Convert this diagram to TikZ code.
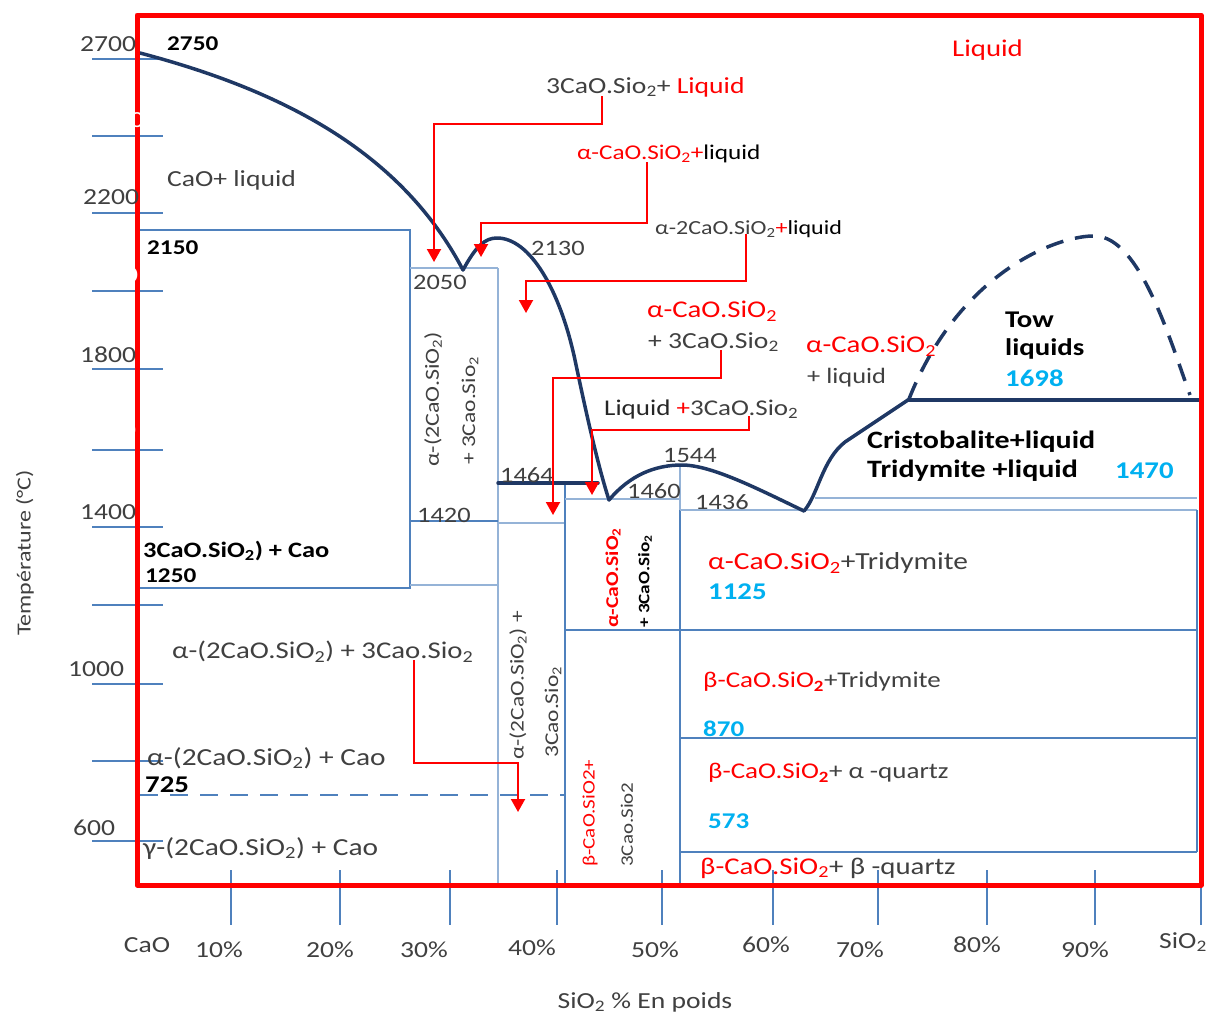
\documentclass[tikz,border=0pt]{standalone}
\usepackage{fontspec}
\setmainfont[FakeStretch=1.2]{Carlito}
\usetikzlibrary{arrows.meta}
\definecolor{navy}{HTML}{1F3864}
\definecolor{blueline}{HTML}{4F81BD}
\definecolor{lightblue}{HTML}{95B3D7}
\definecolor{cyanv}{HTML}{00B0F0}
\definecolor{txtgray}{HTML}{404040}
\newcommand{\myfs}[1]{\fontsize{#1}{#1}\selectfont}
\newcommand{\mysub}[1]{\textsubscript{#1}}
\begin{document}
\begin{tikzpicture}[x=1pt,y=-1pt,
  frame/.style={draw=red, line width=5pt, line join=round},
  bl/.style={draw=blueline, line width=2.2pt},
  lbl/.style={draw=lightblue, line width=2pt},
  tick/.style={draw=blueline, line width=1.5pt},
  liq/.style={draw=navy, line width=3.5pt, line join=round, line cap=round},
  ra/.style={draw=red, line width=2pt, -{Triangle[width=14pt,length=13pt]}},
  t/.style={anchor=west, inner sep=0pt, text=txtgray, font=\myfs{23}},
  tb/.style={anchor=west, inner sep=0pt, text=black, font=\myfs{23}\bfseries},
  tc/.style={anchor=west, inner sep=0pt, text=cyanv, font=\myfs{24}\bfseries},
  tw/.style={anchor=west, inner sep=0pt, text=white, font=\myfs{23}},
  ax/.style={anchor=center, inner sep=0pt, text=txtgray, font=\myfs{23}}
]
\useasboundingbox (0,0) rectangle (1209,1018);

% ---- y ticks ----
\foreach \yy in {59,136,213,291,369,450,527,605,684,761,841}
  \draw[tick] (92,\yy) -- (163,\yy);
% ---- x ticks ----
\foreach \xx in {231,340,450,557,662,773,878,987,1095}
  \draw[tick] (\xx,870) -- (\xx,925);
\draw[tick] (1201,860) -- (1201,925);

% ---- blue phase boundaries ----
\draw[bl] (137,230) -- (410,230) -- (410,588) -- (137,588);
\draw[lbl] (410,268) -- (498,268);
\draw[lbl] (498,268) -- (498,885);
\draw[bl] (410,521) -- (498,521);
\draw[lbl] (410,585) -- (498,585);
\draw[lbl] (498,523) -- (565,523);
\draw[bl] (565,485) -- (565,885);
\draw[lbl] (565,499) -- (680,499);
\draw[bl] (565,630) -- (1197,630);
\draw[lbl] (680,466) -- (680,510);
\draw[bl] (680,510) -- (680,885);
\draw[lbl] (680,510) -- (1197,510);
\draw[lbl] (815,498) -- (1197,498);
\draw[bl] (1197,510) -- (1197,852);
\draw[bl] (680,738) -- (1197,738);
\draw[bl] (680,852) -- (1197,852);
\draw[bl, line width=2.5pt, dash pattern=on 18pt off 12pt] (140,795) -- (565,795);

% ---- liquidus curves ----
\draw[liq] (140,53) .. controls (280,90) and (400,150) .. (463,270);
\draw[liq] (463,270) .. controls (476,246) and (485,238) .. (497,238)
                     .. controls (530,238) and (560,290) .. (575,360)
                     .. controls (582,393) and (596,460) .. (609,500);
\draw[liq] (609,500) .. controls (630,475) and (655,465) .. (682,465)
                     .. controls (712,465) and (760,490) .. (804,511);
\draw[liq] (804,511) .. controls (818,495) and (822,460) .. (845,442) -- (908,400);
\draw[liq] (908,400) -- (1201,400);
\draw[liq] (498,483) -- (598,483);
\draw[liq, line cap=butt, dash pattern=on 18pt off 12pt] (909,399) .. controls (960,270) and (1060,235) .. (1095,236)
                     .. controls (1140,237) and (1170,340) .. (1190,395);

% ---- frame ----
\draw[frame] (137,15) rectangle (1201,885);

% ---- axis labels ----
\node[t] (y2700) at (80,44) {2700};
\node[tw] (y2400) at (88,120) {2400};
\node[t] (y2200) at (83,197) {2200};
\node[tw] (y2000) at (82,275) {2000};
\node[t] (y1800) at (80,355) {1800};
\node[tw] (y1600) at (80,430) {1600};
\node[t] (y1400) at (80,512) {1400};
\node[tw] (y1200) at (75,587) {1200};
\node[t] (y1000) at (68,669) {1000};
\node[tw] (y800) at (75,745) {800};
\node[t] (y600) at (73,828) {600};

\node[ax] (xCaO) at (147,945) {CaO};
\node[ax] (x10) at (219,950) {10\%};
\node[ax] (x20) at (330,950) {20\%};
\node[ax] (x30) at (424,950) {30\%};
\node[ax] (x40) at (532,948) {40\%};
\node[ax] (x50) at (655,950) {50\%};
\node[ax] (x60) at (766,945) {60\%};
\node[ax] (x70) at (860,950) {70\%};
\node[ax] (x80) at (977,945) {80\%};
\node[ax] (x90) at (1085,950) {90\%};
\node[ax] (xSi) at (1183,942) {SiO\mysub{2}};
\node[ax, font=\myfs{23}] (xlab) at (645,1002) {SiO\mysub{2} \% En poids};
\node[ax, font=\myfs{20}, rotate=90] (ylab) at (25,553) {Température (°C)};

% ---- region labels ----
\node[t, text=red, font=\myfs{24}] (liqtop) at (952,50) {Liquid};
\node[tb, font=\myfs{21}\bfseries] (l2750) at (167,44) {2750};
\node[t] (cao) at (167,180) {CaO+ liquid};
\node[tb, font=\myfs{21}\bfseries] (l2150) at (147,248) {2150};
\node[tb, font=\myfs{22}\bfseries] (c3s) at (143,551) {3CaO.SiO\mysub{2}) + Cao};
\node[tb, font=\myfs{21}\bfseries] (l1250) at (145,576) {1250};

\node[t] (lab1) at (546,87) {3CaO.Sio\mysub{2}+ \textcolor{red}{Liquid}};
\node[t, font=\myfs{21}] (lab2) at (577,154) {\textcolor{red}{α-CaO.SiO\mysub{2}+}\textcolor{black}{liquid}};
\node[t, font=\myfs{20}] (lab3) at (655,229) {α-2CaO.SiO\mysub{2}\textcolor{red}{+}\textcolor{black}{liquid}};
\node[t, font=\myfs{22}] (l2130) at (531,248) {2130};
\node[t, font=\myfs{22}] (l2050) at (413,282) {2050};
\node[t, text=red, font=\myfs{24}] (lab4a) at (647,311) {α-CaO.SiO\mysub{2}};
\node[t] (lab4b) at (648,342) {+ 3CaO.Sio\mysub{2}};
\node[t, text=red, font=\myfs{24}] (lab5a) at (806,346) {α-CaO.SiO\mysub{2}};
\node[t, font=\myfs{22}] (lab5b) at (807,378) {+ liquid};
\node[tb, font=\myfs{24}\bfseries] (tow1) at (1005,320) {Tow};
\node[tb, font=\myfs{24}\bfseries] (tow2) at (1005,349) {liquids};
\node[tc] (l1698) at (1005,378) {1698};
\node[t, font=\myfs{22.5}] (lab6) at (604,409) {\textcolor{black!85}{Liquid }\textcolor{red}{+}3CaO.Sio\mysub{2}};
\node[tb, font=\myfs{25}\bfseries] (cris) at (867,442) {Cristobalite+liquid};
\node[tb, font=\myfs{25}\bfseries] (trid) at (867,471) {Tridymite +liquid};
\node[tc] (l1470) at (1115,471) {1470};
\node[t, font=\myfs{22}] (l1544) at (663,455) {1544};
\node[t, font=\myfs{22}] (l1464) at (500,475) {1464};
\node[t, font=\myfs{22}] (l1460) at (627,491) {1460};
\node[t, font=\myfs{22}] (l1436) at (695,502) {1436};
\node[t, font=\myfs{22}] (l1420) at (417,515) {1420};

\node[t, font=\myfs{20}, rotate=90] (v1a) at (433,467) {α-(2CaO.SiO\mysub{2})};
\node[t, font=\myfs{19.5}, rotate=90] (v1b) at (470,465) {+ 3Cao.Sio\mysub{2}};
\node[t, font=\myfs{19.5}, rotate=90] (v2a) at (518,760) {α-(2CaO.SiO\mysub{2}) +};
\node[t, font=\myfs{19.5}, rotate=90] (v2b) at (553,758) {3Cao.Sio\mysub{2}};
\node[tb, text=red, font=\myfs{18}\bfseries, rotate=90] (v3a) at (613,628) {α-CaO.SiO\mysub{2}};
\node[tb, font=\myfs{16}\bfseries, rotate=90] (v3b) at (645,628) {+ 3CaO.Sio\mysub{2}};
\node[t, text=red, font=\myfs{17.5}, rotate=90] (v4a) at (590,867) {β-CaO.SiO2+};
\node[t, font=\myfs{17.5}, rotate=90] (v4b) at (627,867) {3Cao.Sio2};

\node[t, font=\myfs{24.5}] (lab7) at (708,563) {\textcolor{red}{α-CaO.SiO\mysub{2}}+Tridymite};
\node[tc] (l1125) at (708,592) {1125};
\node[t, font=\myfs{22.5}] (lab8) at (703,682) {\textcolor{red}{β-CaO.SiO\mysub{\textbf{2}}}+Tridymite};
\node[tc, font=\myfs{22.5}\bfseries] (l870) at (703,729) {870};
\node[t, font=\myfs{22.5}] (lab9) at (708,773) {\textcolor{red}{β-CaO.SiO\mysub{\textbf{2}}}+ α -quartz};
\node[tc, font=\myfs{22.5}\bfseries] (l573) at (708,821) {573};
\node[t, font=\myfs{24}] (lab10) at (700,868) {\textcolor{red}{β-CaO.SiO\mysub{2}}+ β -quartz};

\node[t, font=\myfs{24}] (lab11) at (172,652) {α-(2CaO.SiO\mysub{2}) + 3Cao.Sio\mysub{2}};
\node[t, font=\myfs{24.5}] (lab12) at (147,758) {α-(2CaO.SiO\mysub{2}) + Cao};
\node[tb, font=\myfs{24}\bfseries] (l725) at (145,785) {725};
\node[t, font=\myfs{24.5}] (lab13) at (143,848) {γ-(2CaO.SiO\mysub{2}) + Cao};

% ---- red pointer arrows ----
\coordinate (s1) at (602,96);  \coordinate (t1) at (434,262);
\coordinate (s2) at (647,162); \coordinate (t2) at (481,257);
\coordinate (s3) at (746,234); \coordinate (t3) at (526,313);
\coordinate (s4) at (721,350); \coordinate (t4) at (553,515);
\coordinate (s5) at (749,416); \coordinate (t5) at (592,495);
\coordinate (s6) at (414,660); \coordinate (t6) at (518,812);
\draw[ra] (s1) -- ++(0,28) -| (t1);
\draw[ra] (s2) -- ++(0,61) -| (t2);
\draw[ra] (s3) -- ++(0,47) -| (t3);
\draw[ra] (s4) -- ++(0,28) -| (t4);
\draw[ra] (s5) -- ++(0,14) -| (t5);
\draw[ra] (s6) -- ++(0,103) -| (t6);
\end{tikzpicture}
\end{document}
